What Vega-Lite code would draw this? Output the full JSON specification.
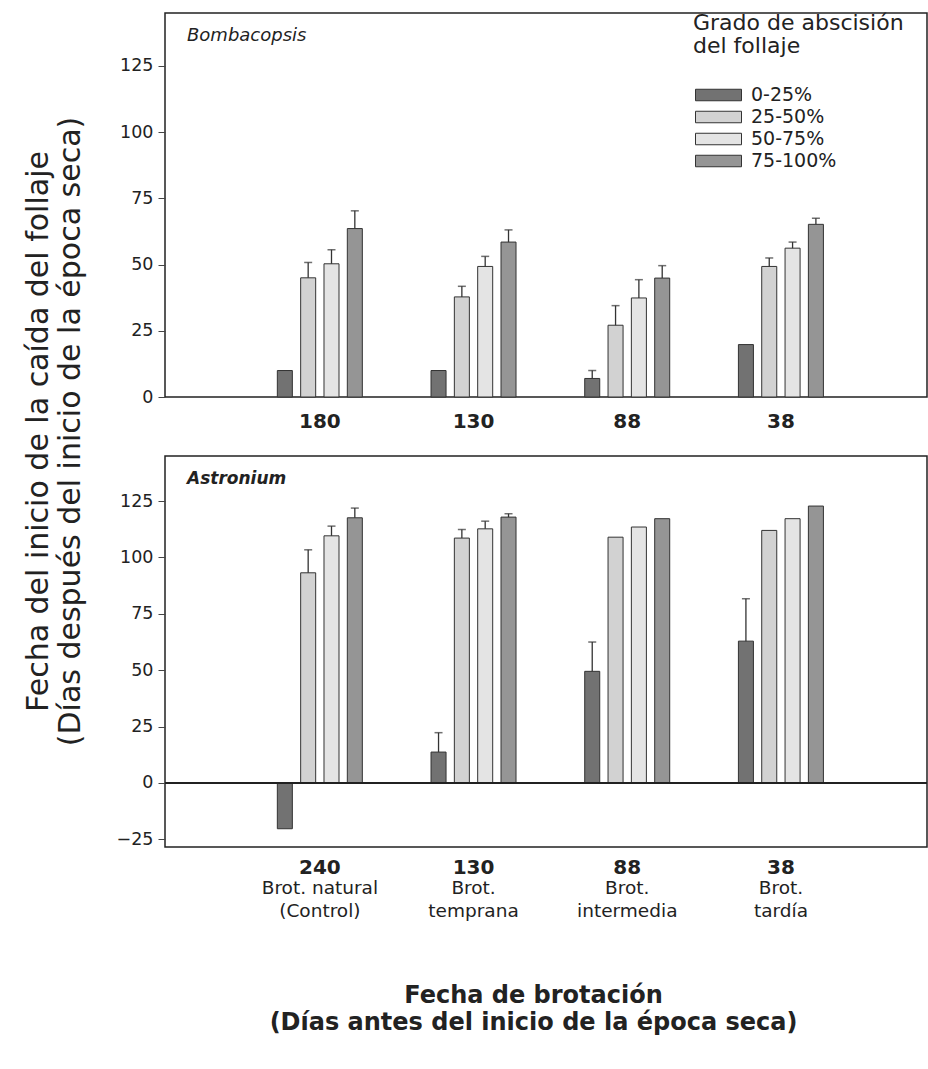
{
  "$schema": "https://vega.github.io/schema/vega-lite/v6.json",
  "padding": {"left": 22, "top": 12, "right": 0, "bottom": 5},
  "background": "white",
  "config": {
    "font": "DejaVu Sans",
    "view": {"stroke": "#222", "strokeWidth": 1.5},
    "axis": {"labelFont": "DejaVu Sans", "titleFont": "DejaVu Sans", "labelColor": "#222", "titleColor": "#222", "tickColor": "#444", "grid": false}
  },
  "datasets": {
    "d": [
      {"sp": "Bombacopsis", "dias": "180", "grado": "0-25%", "v": 10, "hi": null},
      {"sp": "Bombacopsis", "dias": "180", "grado": "25-50%", "v": 45, "hi": 50.8},
      {"sp": "Bombacopsis", "dias": "180", "grado": "50-75%", "v": 50.3, "hi": 55.6},
      {"sp": "Bombacopsis", "dias": "180", "grado": "75-100%", "v": 63.6, "hi": 70.3},
      {"sp": "Bombacopsis", "dias": "130", "grado": "0-25%", "v": 10, "hi": null},
      {"sp": "Bombacopsis", "dias": "130", "grado": "25-50%", "v": 37.8, "hi": 41.8},
      {"sp": "Bombacopsis", "dias": "130", "grado": "50-75%", "v": 49.3, "hi": 53.1},
      {"sp": "Bombacopsis", "dias": "130", "grado": "75-100%", "v": 58.5, "hi": 63.1},
      {"sp": "Bombacopsis", "dias": "88", "grado": "0-25%", "v": 7, "hi": 10},
      {"sp": "Bombacopsis", "dias": "88", "grado": "25-50%", "v": 27.1, "hi": 34.5},
      {"sp": "Bombacopsis", "dias": "88", "grado": "50-75%", "v": 37.4, "hi": 44.3},
      {"sp": "Bombacopsis", "dias": "88", "grado": "75-100%", "v": 44.9, "hi": 49.6},
      {"sp": "Bombacopsis", "dias": "38", "grado": "0-25%", "v": 19.8, "hi": null},
      {"sp": "Bombacopsis", "dias": "38", "grado": "25-50%", "v": 49.3, "hi": 52.5},
      {"sp": "Bombacopsis", "dias": "38", "grado": "50-75%", "v": 56.2, "hi": 58.5},
      {"sp": "Bombacopsis", "dias": "38", "grado": "75-100%", "v": 65.2, "hi": 67.5},
      {"sp": "Astronium", "dias": "240", "grado": "0-25%", "v": -20.3, "hi": null},
      {"sp": "Astronium", "dias": "240", "grado": "25-50%", "v": 93.2, "hi": 103.4},
      {"sp": "Astronium", "dias": "240", "grado": "50-75%", "v": 109.6, "hi": 113.9},
      {"sp": "Astronium", "dias": "240", "grado": "75-100%", "v": 117.6, "hi": 121.9},
      {"sp": "Astronium", "dias": "130", "grado": "0-25%", "v": 13.7, "hi": 22.3},
      {"sp": "Astronium", "dias": "130", "grado": "25-50%", "v": 108.6, "hi": 112.4},
      {"sp": "Astronium", "dias": "130", "grado": "50-75%", "v": 112.7, "hi": 116.1},
      {"sp": "Astronium", "dias": "130", "grado": "75-100%", "v": 117.9, "hi": 119.4},
      {"sp": "Astronium", "dias": "88", "grado": "0-25%", "v": 49.5, "hi": 62.5},
      {"sp": "Astronium", "dias": "88", "grado": "25-50%", "v": 109, "hi": null},
      {"sp": "Astronium", "dias": "88", "grado": "50-75%", "v": 113.5, "hi": null},
      {"sp": "Astronium", "dias": "88", "grado": "75-100%", "v": 117.2, "hi": null},
      {"sp": "Astronium", "dias": "38", "grado": "0-25%", "v": 62.9, "hi": 81.7},
      {"sp": "Astronium", "dias": "38", "grado": "25-50%", "v": 112, "hi": null},
      {"sp": "Astronium", "dias": "38", "grado": "50-75%", "v": 117.2, "hi": null},
      {"sp": "Astronium", "dias": "38", "grado": "75-100%", "v": 122.8, "hi": null}
    ]
  },
  "bounds": "flush",
  "spacing": 59,
  "resolve": {"legend": {"color": "independent"}},
  "vconcat": [
    {
      "width": 762,
      "height": 384,
      "title": {"text": "Bombacopsis", "anchor": "start", "frame": "group", "offset": -32, "dx": 22, "fontStyle": "italic", "fontWeight": "normal", "fontSize": 18, "font": "DejaVu Sans", "color": "#222"},
      "data": {"name": "d"},
      "transform": [{"filter": "datum.sp === 'Bombacopsis'"}],
      "encoding": {
        "x": {"field": "dias", "type": "nominal", "sort": ["180", "130", "88", "38"],
          "scale": {"paddingInner": 0, "paddingOuter": 0.479, "align": 0.53},
          "axis": {"title": null, "labelAngle": 0, "ticks": false, "domain": false, "labelFontSize": 20, "labelFontWeight": "bold", "labelPadding": 14}},
        "xOffset": {"field": "grado", "type": "nominal", "sort": ["0-25%", "25-50%", "50-75%", "75-100%"],
          "scale": {"range": [34.3, 119.3], "paddingInner": 0.356, "paddingOuter": 0}}
      },
      "layer": [
        {
          "mark": {"type": "bar", "stroke": "#333", "strokeWidth": 1},
          "encoding": {
            "y": {"field": "v", "type": "quantitative", "scale": {"domain": [0, 145], "nice": false, "zero": false},
              "axis": {"values": [0, 12.5, 25, 37.5, 50, 62.5, 75, 87.5, 100, 112.5, 125, 137.5],
                "labelExpr": "datum.value % 25 == 0 ? datum.label : ''",
                "domain": false, "tickSize": 7, "labelPadding": 5, "labelFontSize": 17.5,
                "title": ["Fecha del inicio de la caída del follaje", "(Días después del inicio de la época seca)"],
                "titleFontSize": 30, "titleFontWeight": "normal", "titleLineHeight": 32, "titleY": 418, "titlePadding": 34}},
            "color": {"field": "grado", "type": "nominal", "sort": ["0-25%", "25-50%", "50-75%", "75-100%"],
              "scale": {"domain": ["0-25%", "25-50%", "50-75%", "75-100%"], "range": ["#727272", "#d2d2d2", "#e4e4e4", "#959595"]},
              "legend": {"orient": "none", "legendX": 528, "legendY": 0, "title": ["Grado de abscisión", "del follaje"],
                "titleFontSize": 22, "titleFontWeight": "normal", "titleColor": "#222", "titleLineHeight": 23, "titleLimit": 400, "titlePadding": 25,
                "labelFontSize": 19, "labelColor": "#222", "labelOffset": 20.5, "symbolOffset": 13.5,
                "symbolType": "M-2,-0.5H2V0.5H-2Z", "symbolSize": 529, "symbolStrokeColor": "#333", "symbolStrokeWidth": 1, "rowPadding": 0}}
          }
        },
        {
          "transform": [{"filter": "datum.hi != null"}],
          "mark": {"type": "rule", "color": "#333", "strokeWidth": 1.3},
          "encoding": {"y": {"field": "v", "type": "quantitative"}, "y2": {"field": "hi"}}
        },
        {
          "transform": [{"filter": "datum.hi != null"}],
          "mark": {"type": "tick", "color": "#333", "size": 8, "thickness": 1.5},
          "encoding": {"y": {"field": "hi", "type": "quantitative"}}
        }
      ]
    },
    {
      "width": 762,
      "height": 391,
      "title": {"text": "Astronium", "anchor": "start", "frame": "group", "offset": -32, "dx": 22, "fontStyle": "italic", "fontWeight": "bold", "fontSize": 17, "font": "DejaVu Sans", "color": "#222"},
      "data": {"name": "d"},
      "transform": [{"filter": "datum.sp === 'Astronium'"}],
      "resolve": {"axis": {"x": "independent"}},
      "layer": [
        {
          "mark": {"type": "bar", "stroke": "#333", "strokeWidth": 1},
          "encoding": {
            "x": {"field": "dias", "type": "nominal", "sort": ["240", "130", "88", "38"],
              "scale": {"paddingInner": 0, "paddingOuter": 0.479, "align": 0.53},
              "axis": {"title": null, "orient": "bottom", "labelAngle": 0, "ticks": false, "domain": false, "labelFontSize": 20, "labelFontWeight": "bold", "labelPadding": 10}},
            "xOffset": {"field": "grado", "type": "nominal", "sort": ["0-25%", "25-50%", "50-75%", "75-100%"],
              "scale": {"range": [34.3, 119.3], "paddingInner": 0.356, "paddingOuter": 0}},
            "y": {"field": "v", "type": "quantitative", "scale": {"domain": [-28.4, 145], "nice": false, "zero": false},
              "axis": {"values": [-25, -12.5, 0, 12.5, 25, 37.5, 50, 62.5, 75, 87.5, 100, 112.5, 125, 137.5],
                "labelExpr": "datum.value % 25 == 0 ? datum.label : ''",
                "domain": false, "tickSize": 7, "labelPadding": 5, "labelFontSize": 17.5, "title": null}},
            "color": {"field": "grado", "type": "nominal", "sort": ["0-25%", "25-50%", "50-75%", "75-100%"],
              "scale": {"domain": ["0-25%", "25-50%", "50-75%", "75-100%"], "range": ["#727272", "#d2d2d2", "#e4e4e4", "#959595"]},
              "legend": null}
          }
        },
        {
          "transform": [{"filter": "datum.hi != null"}],
          "mark": {"type": "rule", "color": "#333", "strokeWidth": 1.3},
          "encoding": {
            "x": {"field": "dias", "type": "nominal", "sort": ["240", "130", "88", "38"], "axis": null},
            "xOffset": {"field": "grado", "type": "nominal", "sort": ["0-25%", "25-50%", "50-75%", "75-100%"]},
            "y": {"field": "v", "type": "quantitative"}, "y2": {"field": "hi"}}
        },
        {
          "transform": [{"filter": "datum.hi != null"}],
          "mark": {"type": "tick", "color": "#333", "size": 8, "thickness": 1.5},
          "encoding": {
            "x": {"field": "dias", "type": "nominal", "sort": ["240", "130", "88", "38"],
              "axis": {"orient": "bottom", "labelAngle": 0, "ticks": false, "domain": false, "labelFontSize": 18.5, "labelPadding": 31, "labelLineHeight": 23,
                "labelExpr": "datum.value == '240' ? ['Brot. natural', '(Control)'] : datum.value == '130' ? ['Brot.', 'temprana'] : datum.value == '88' ? ['Brot.', 'intermedia'] : ['Brot.', 'tardía']",
                "title": ["Fecha de brotación", "(Días antes del inicio de la época seca)"],
                "titleFontSize": 24, "titleFontWeight": "bold", "titleLineHeight": 27, "titlePadding": 64, "titleX": 368}},
            "xOffset": {"field": "grado", "type": "nominal", "sort": ["0-25%", "25-50%", "50-75%", "75-100%"]},
            "y": {"field": "hi", "type": "quantitative"}}
        },
        {
          "mark": {"type": "rule", "color": "#222", "strokeWidth": 1.5},
          "encoding": {"y": {"datum": 0}}
        }
      ]
    }
  ]
}
